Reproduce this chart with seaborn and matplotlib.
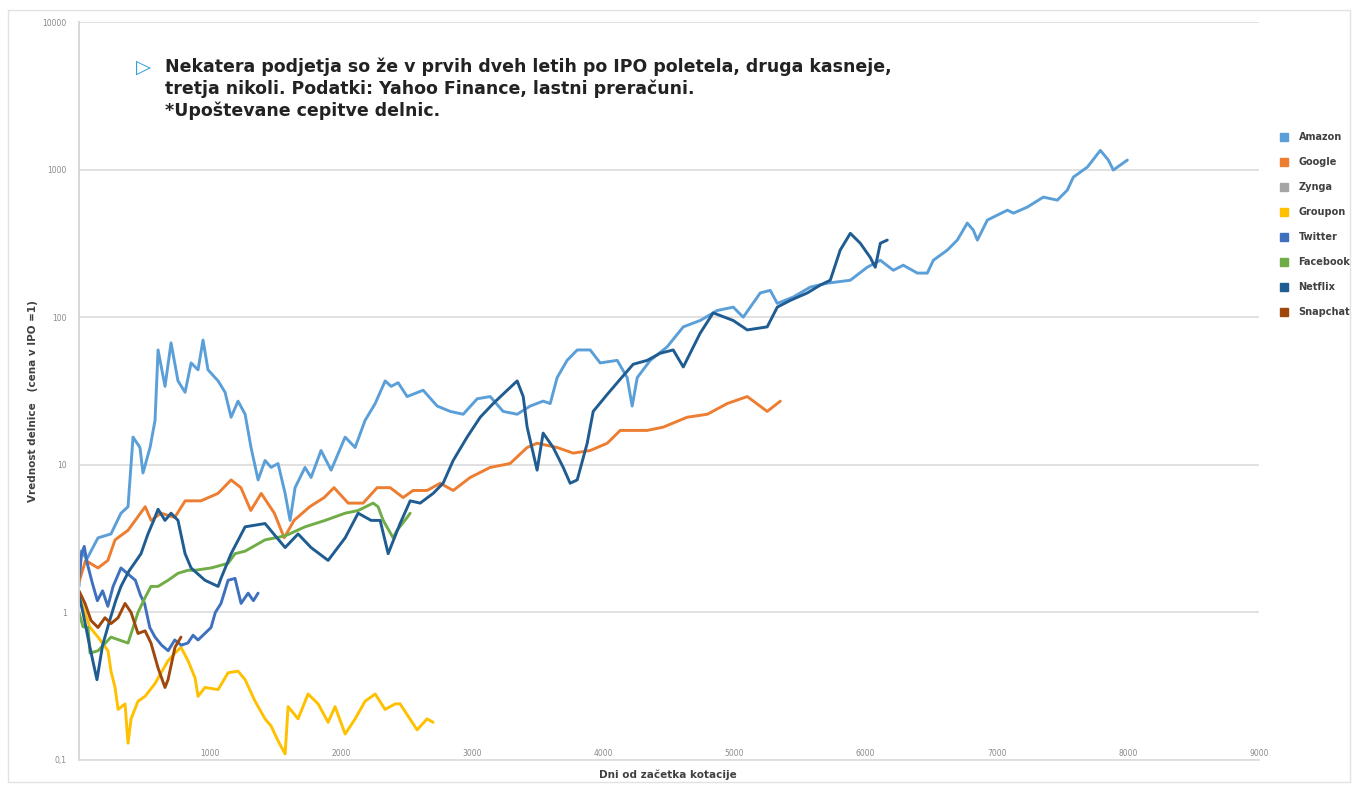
import matplotlib
matplotlib.use("Agg")
import matplotlib.pyplot as plt
from matplotlib.lines import Line2D
from matplotlib.patches import Rectangle
import seaborn as sns
import pandas as pd

# ---------------- data (day since IPO, value relative to IPO price) ----------------
companies = ["Amazon", "Google", "Zynga", "Groupon", "Twitter", "Facebook", "Netflix", "Snapchat"]
colors = ["#5B9FD8", "#ED7D31", "#A5A5A5", "#FFC000", "#3F70BE", "#70AD47", "#1F5C92", "#9E480E"]

amazon = [(0, 1.5), (15, 2.6), (60, 2.3), (145, 3.2), (244, 3.4), (320, 4.7), (374, 5.2), (412, 15.4),
          (465, 13.1), (488, 8.8), (542, 13.1), (580, 20), (603, 60), (656, 34), (702, 67), (755, 37),
          (809, 31), (855, 49), (908, 44), (946, 70), (984, 44), (1061, 37), (1114, 31), (1160, 21),
          (1213, 27), (1267, 22), (1312, 13.1), (1366, 7.9), (1419, 10.7), (1465, 9.6), (1518, 10.2),
          (1572, 6.4), (1610, 4.2), (1648, 7.0), (1724, 9.6), (1770, 8.2), (1846, 12.5), (1923, 9.2),
          (2030, 15.4), (2106, 13.1), (2182, 20), (2259, 26), (2335, 37), (2381, 34), (2434, 36),
          (2503, 29), (2625, 32), (2732, 25), (2831, 23), (2930, 22), (3037, 28), (3136, 29),
          (3235, 23), (3342, 22), (3441, 25), (3540, 27), (3594, 26), (3647, 39), (3723, 51),
          (3800, 60), (3899, 60), (3975, 49), (4105, 51), (4181, 39), (4219, 25), (4258, 39),
          (4357, 51), (4486, 63), (4609, 86), (4738, 95), (4868, 111), (4990, 117), (5066, 100),
          (5196, 146), (5272, 152), (5326, 124), (5448, 137), (5578, 160), (5707, 170), (5883, 178),
          (6012, 218), (6112, 243), (6211, 208), (6287, 225), (6394, 199), (6470, 199), (6516, 243),
          (6623, 285), (6699, 333), (6775, 434), (6821, 389), (6852, 333), (6928, 455), (7081, 531),
          (7127, 507), (7233, 557), (7355, 651), (7462, 621), (7538, 726), (7584, 889), (7691, 1040),
          (7790, 1350), (7851, 1160), (7889, 993), (7920, 1040), (7996, 1160)]

google = [(0, 1.6), (50, 2.25), (145, 2.0), (220, 2.25), (275, 3.1), (374, 3.6), (505, 5.2), (550, 4.2),
          (625, 4.7), (730, 4.4), (810, 5.7), (930, 5.7), (1060, 6.4), (1160, 7.9), (1235, 7.0),
          (1310, 4.9), (1390, 6.4), (1490, 4.7), (1565, 3.2), (1640, 4.2), (1760, 5.2), (1870, 6.0),
          (1945, 7.0), (2053, 5.5), (2167, 5.5), (2274, 7.0), (2373, 7.0), (2472, 6.0), (2548, 6.7),
          (2655, 6.7), (2755, 7.5), (2854, 6.7), (2983, 8.2), (3136, 9.6), (3288, 10.2), (3418, 13.1),
          (3494, 14.0), (3647, 13.1), (3769, 12.0), (3899, 12.5), (4029, 14.0), (4128, 17.1),
          (4334, 17.1), (4456, 18.0), (4639, 21), (4792, 22), (4944, 26), (5097, 29), (5249, 23),
          (5349, 27)]

zynga = []

groupon = [(0, 1.3), (30, 1.1), (80, 0.8), (145, 0.68), (221, 0.55), (244, 0.40), (275, 0.31),
           (298, 0.22), (351, 0.24), (374, 0.13), (397, 0.19), (450, 0.25), (504, 0.27), (580, 0.33),
           (626, 0.39), (679, 0.47), (732, 0.53), (778, 0.58), (832, 0.47), (885, 0.36), (908, 0.27),
           (961, 0.31), (1061, 0.30), (1137, 0.39), (1213, 0.40), (1267, 0.35), (1343, 0.25),
           (1419, 0.19), (1465, 0.17), (1518, 0.135), (1572, 0.11), (1595, 0.23), (1671, 0.19),
           (1747, 0.28), (1824, 0.24), (1900, 0.18), (1953, 0.23), (2030, 0.15), (2106, 0.19),
           (2182, 0.25), (2259, 0.28), (2335, 0.22), (2411, 0.24), (2449, 0.24), (2579, 0.16),
           (2655, 0.19), (2701, 0.18)]

twitter = [(0, 1.7), (20, 2.5), (40, 2.8), (60, 2.2), (100, 1.6), (140, 1.2), (180, 1.4), (220, 1.1),
           (260, 1.5), (320, 2.0), (380, 1.8), (430, 1.65), (470, 1.3), (500, 1.15), (540, 0.79),
           (580, 0.68), (630, 0.6), (680, 0.55), (730, 0.65), (780, 0.6), (830, 0.62), (870, 0.7),
           (908, 0.65), (960, 0.72), (1007, 0.79), (1040, 1.0), (1083, 1.15), (1137, 1.65),
           (1190, 1.7), (1236, 1.15), (1290, 1.35), (1330, 1.2), (1366, 1.35)]

facebook = [(0, 1.0), (30, 0.8), (69, 0.79), (84, 0.53), (145, 0.55), (244, 0.68), (374, 0.62),
            (450, 1.0), (504, 1.26), (549, 1.5), (603, 1.5), (679, 1.65), (755, 1.84), (832, 1.93),
            (885, 1.93), (1007, 2.0), (1137, 2.15), (1190, 2.5), (1267, 2.6), (1419, 3.1), (1572, 3.3),
            (1724, 3.8), (1877, 4.2), (2030, 4.7), (2129, 4.9), (2243, 5.5), (2281, 5.2), (2320, 4.2),
            (2396, 3.2), (2426, 3.6), (2503, 4.4), (2526, 4.7)]

netflix = [(0, 1.3), (30, 1.0), (80, 0.6), (110, 0.45), (137, 0.35), (180, 0.6), (237, 0.9), (280, 1.2),
           (320, 1.5), (380, 1.9), (430, 2.2), (473, 2.5), (526, 3.4), (570, 4.2), (603, 5.0), (656, 4.2),
           (702, 4.7), (755, 4.2), (809, 2.5), (855, 2.0), (961, 1.65), (1061, 1.5), (1083, 1.7),
           (1160, 2.5), (1267, 3.8), (1419, 4.0), (1572, 2.75), (1671, 3.4), (1770, 2.75), (1900, 2.25),
           (2030, 3.2), (2129, 4.7), (2228, 4.2), (2297, 4.2), (2358, 2.5), (2449, 4.0), (2526, 5.7),
           (2602, 5.5), (2701, 6.4), (2777, 7.5), (2854, 10.7), (2960, 15.4), (3060, 21), (3159, 26),
           (3266, 32), (3342, 37), (3388, 29), (3418, 18), (3494, 9.2), (3540, 16.4), (3617, 13.1),
           (3693, 9.6), (3746, 7.5), (3800, 7.9), (3876, 14), (3922, 23), (4029, 30), (4128, 38),
           (4227, 48), (4334, 51), (4433, 57), (4532, 60), (4609, 46), (4738, 78), (4837, 107),
           (4990, 95), (5097, 82), (5249, 86), (5326, 117), (5425, 130), (5555, 146), (5654, 165),
           (5730, 178), (5806, 285), (5883, 370), (5959, 317), (6035, 254), (6073, 218), (6112, 317),
           (6165, 333)]

snapchat = [(0, 1.4), (46, 1.15), (92, 0.88), (145, 0.79), (198, 0.92), (244, 0.84), (298, 0.92),
            (351, 1.15), (397, 1.0), (450, 0.72), (504, 0.75), (549, 0.62), (603, 0.42), (656, 0.31),
            (679, 0.35), (732, 0.58), (778, 0.68)]

y_ticks = [0.1, 1, 10, 100, 1000, 10000]
y_tick_labels = ["0,1", "1", "10", "100", "1000", "10000"]
x_ticks = [1000, 2000, 3000, 4000, 5000, 6000, 7000, 8000, 9000]

title_lines = ["Nekatera podjetja so že v prvih dveh letih po IPO poletela, druga kasneje,",
               "tretja nikoli. Podatki: Yahoo Finance, lastni preračuni.",
               "*Upoštevane cepitve delnic."]
y_label = "Vrednost delnice   (cena v IPO =1)"
x_label = "Dni od začetka kotacije"

# ---------------- build frame ----------------
series = dict(zip(companies, [amazon, google, zynga, groupon, twitter, facebook, netflix, snapchat]))
rows = []
for name, pts in series.items():
    for d, v in pts:
        rows.append({"company": name, "day": d, "value": v})
df = pd.DataFrame(rows)
palette = dict(zip(companies, colors))

# ---------------- figure ----------------
sns.set_style("white")
plt.rcParams["font.family"] = ["DejaVu Sans"]
W, H = 1358, 785
fig = plt.figure(figsize=(W / 100, H / 100), dpi=100)
fig.patch.set_facecolor("white")

def fx(px):
    return px / W

def fy(py):
    return 1 - py / H

ax = fig.add_axes([fx(79), fy(760), fx(1259) - fx(79), fy(22) - fy(760)])

present = [c for c in companies if len(series[c]) > 0]
sns.lineplot(data=df, x="day", y="value", hue="company", hue_order=present,
             palette=palette, estimator=None, sort=False, legend=False,
             linewidth=2.1, ax=ax)

ax.set_yscale("log")
ax.set_xlim(0, 9000)
ax.set_ylim(0.1, 10000)
ax.set_yticks(y_ticks)
ax.set_yticklabels(y_tick_labels)
ax.yaxis.set_minor_locator(matplotlib.ticker.NullLocator())
ax.set_xticks(x_ticks)
ax.set_xticklabels([str(t) for t in x_ticks])

grid_c = "#dedede"
ax.yaxis.grid(True, color=grid_c, linewidth=1.3)
ax.xaxis.grid(False)
ax.set_axisbelow(True)
for s in ["top", "right"]:
    ax.spines[s].set_visible(False)
ax.spines["bottom"].set_color(grid_c)
ax.spines["bottom"].set_linewidth(1.3)
ax.spines["left"].set_color("#d4d4d4")
ax.spines["left"].set_linewidth(1.3)

ax.tick_params(axis="y", length=0, pad=9, labelsize=5.5, labelcolor="#8a8a8a")
ax.tick_params(axis="x", length=0, pad=-8, labelsize=5.5, labelcolor="#8a8a8a")

ax.set_xlabel("")
ax.set_ylabel("")
fig.text(fx(668), fy(775), x_label, ha="center", va="center", fontsize=7.5,
         fontweight="bold", color="#404040")
fig.text(fx(33), fy(401), y_label, ha="center", va="center", rotation=90,
         fontsize=7.5, fontweight="bold", color="#404040")

# annotation
fig.text(fx(143), fy(67), "\u25B7", ha="center", va="center", fontsize=14,
         color="#2E9BD6", family=["DejaVu Sans"])
for i, line in enumerate(title_lines):
    fig.text(fx(165), fy(67 + 22 * i), line, ha="left", va="center", fontsize=12.5,
             fontweight="bold", color="#222222", family=["DejaVu Sans"])

# legend
handles = [Line2D([], [], marker="s", linestyle="", color=palette[c], markersize=5.5) for c in companies]
leg = fig.legend(handles, companies, loc="upper left", bbox_to_anchor=(fx(1280), fy(132)),
                 frameon=False, prop={"size": 7, "weight": "bold"}, labelcolor="#404040",
                 handlelength=0.9, handletextpad=1.0, labelspacing=1.55, borderpad=0, borderaxespad=0)

# outer chart-area frame
fig.patches.append(Rectangle((fx(8), fy(782)), fx(1350) - fx(8), fy(10) - fy(782),
                             transform=fig.transFigure, fill=False, edgecolor="#e2e2e2", linewidth=1.0))

fig.savefig("out.png", dpi=100, facecolor="white")
